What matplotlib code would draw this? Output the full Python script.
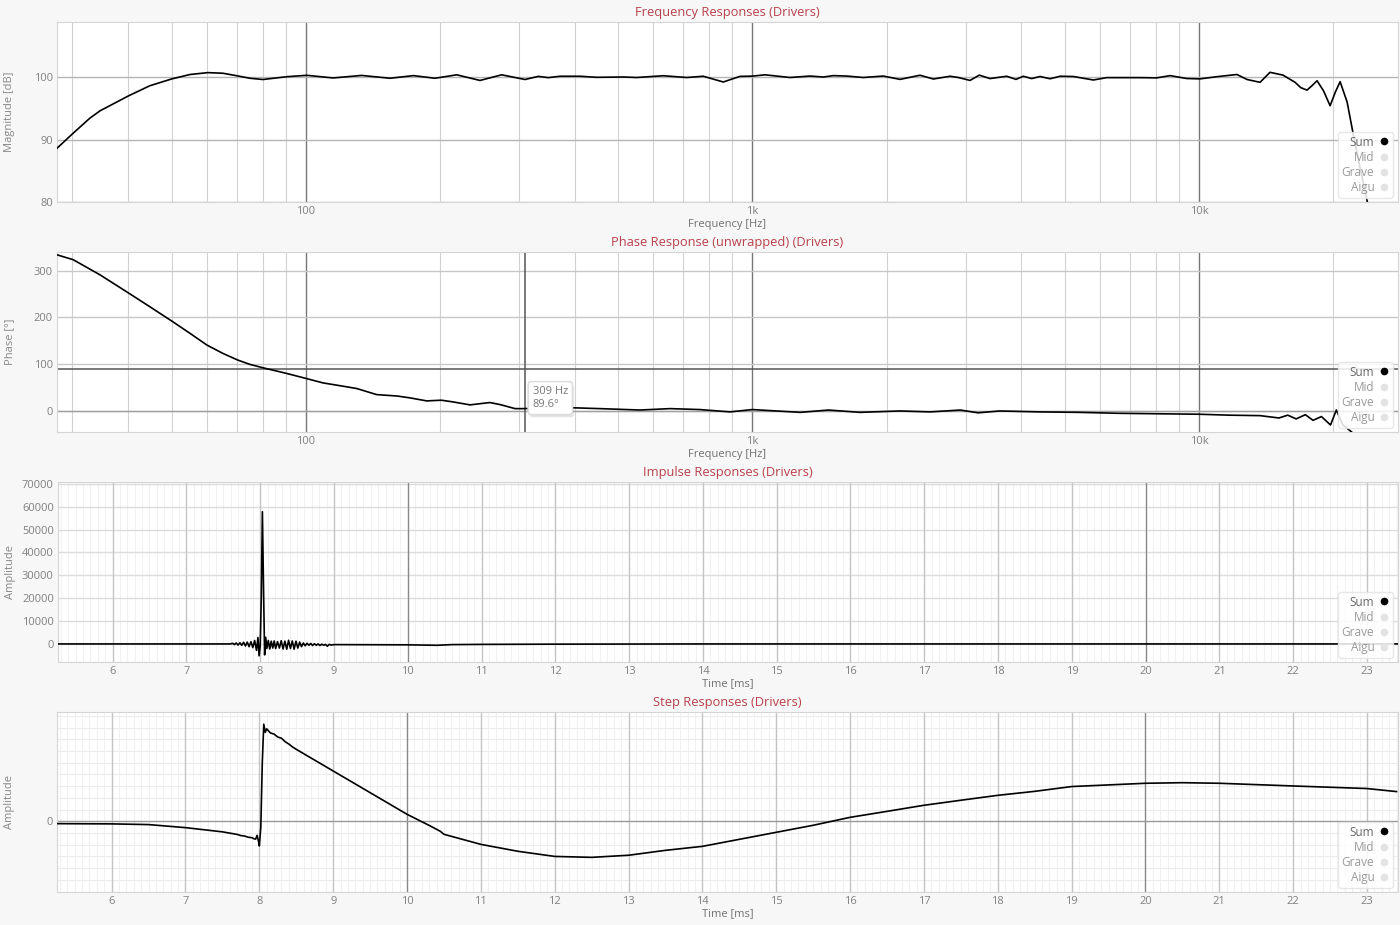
import numpy as np
import matplotlib
matplotlib.use("Agg")
import matplotlib.pyplot as plt
from matplotlib.lines import Line2D
from matplotlib.ticker import FixedLocator, NullFormatter
import matplotlib.patheffects as pe

plt.rcParams['font.family'] = ['Open Sans', 'DejaVu Sans']

# frequency response (Sum)
mag_freq = [27.7, 30.1, 32.8, 34.6, 40.1, 44.7, 50.1, 55.0, 60.3, 65.2, 70.0, 74.9, 80.1, 90.7,
            100.4, 115, 133.3, 154.2, 174, 194.5, 217.6, 245.3, 274.4, 309.4, 331.3, 348.9,
            370.7, 411, 447.8, 513.6, 550.4, 631.3, 712.3, 776, 860.2, 937.6, 1000, 1067,
            1213, 1345, 1441, 1517, 1626, 1771, 1963, 2140, 2372, 2541, 2770, 2891, 3070,
            3220, 3403, 3710, 3891, 4041, 4220, 4405, 4639, 4884, 5231, 5800, 6213, 7376,
            8040, 8610, 9385, 10050, 10970, 12160, 12810, 13700, 14420, 15420, 16410,
            16900, 17450, 17900, 18380, 19000, 19660, 20200, 20700, 21460, 22130, 22710, 24150]
mag_db = [88.6, 91.0, 93.4, 94.6, 97.0, 98.6, 99.7, 100.4, 100.7, 100.6, 100.2, 99.8, 99.6, 100.05,
          100.27, 99.85, 100.25, 99.8, 100.22, 99.8, 100.35, 99.45, 100.35, 99.6, 100.1, 99.9,
          100.12, 100.12, 99.95, 100.0, 99.92, 100.2, 99.92, 100.12, 99.2, 100.1, 100.14, 100.35,
          99.92, 100.15, 100.0, 100.22, 100.15, 99.92, 100.15, 99.62, 100.28, 99.68, 100.12, 99.92,
          99.45, 100.3, 99.75, 100.12, 99.62, 100.12, 99.75, 100.08, 99.72, 100.12, 100.08, 99.52,
          99.9, 99.9, 99.86, 100.22, 99.76, 99.7, 100.05, 100.4, 99.6, 99.15, 100.75, 100.3, 99.15,
          98.3, 97.9, 98.6, 99.4, 97.8, 95.4, 97.6, 99.25, 96.0, 91.0, 87.0, 78.0]

# unwrapped phase (Sum)
ph_freq = [27.7, 30.1, 34.6, 40.1, 44.7, 50.3, 55.0, 60.0, 65.2, 70.3, 74.9, 80.1, 90.5, 100,
           109.2, 121, 129.9, 144, 159.8, 171, 186.4, 201, 213.4, 233, 258, 272, 294, 306,
           390, 455, 560, 654, 762, 890, 1000, 1130, 1280, 1480, 1740, 2140, 2500, 2920,
           3200, 3580, 4400, 5400, 6600, 8100, 10000, 11700, 13700, 15100, 15800, 16500,
           17300, 18000, 18800, 19700, 20300, 21000, 22300, 24500]
ph_deg = [334, 323.6, 291, 252, 223, 191, 166, 141, 123, 109, 99.6, 92.4, 80.3, 69.6,
          60, 53, 48, 35, 32, 28, 21.5, 23, 19.4, 13, 18, 13.7, 5, 5,
          7, 5, 2, 5, 3, -2, 3, 0, -3, 2, -3, 0, -2, 2,
          -4, 0, -2, -3, -5, -6, -7, -9, -10, -15, -9, -17,
          -8, -20, -12, -30, 2, -30, -50, -60]

# impulse response (Sum)
imp_t = [5.25, 7.0, 7.5, 7.600, 7.625, 7.650, 7.675, 7.700, 7.725, 7.750, 7.775, 7.800, 7.825,
         7.850, 7.875, 7.900, 7.925, 7.950, 7.970, 7.985, 8.000, 8.015, 8.030, 8.045, 8.060,
         8.075, 8.090, 8.110, 8.130, 8.150, 8.170, 8.190, 8.210, 8.235, 8.260, 8.285, 8.310,
         8.335, 8.360, 8.385, 8.410, 8.435, 8.460, 8.485, 8.510, 8.535, 8.560, 8.585, 8.610,
         8.635, 8.660, 8.685, 8.710, 8.735, 8.760, 8.785, 8.810, 8.835, 8.860, 8.885, 8.910,
         8.935, 8.960, 9.0, 10.0, 10.4, 10.6, 11.0, 12.0, 14.0, 23.42]
imp_amp = [0, 0, 0, 0, 300, -300, 400, -500, 500, -600, 700, -900, 800,
           -1200, 1000, -1600, 1500, -2800, 2800, -5200, -1000, 20000, 57800, 25000, -4800,
           2900, -2000, 1500, -2200, 1200, -1800, 1300, -2000, 1000, -1800, 1400, -2200,
           1200, -2300, 1600, -2000, 1300, -2300, 1200, -1800, 800, -1200, 400, -800,
           300, -600, 200, -700, 100, -600, 0, -700, -100, -600, -200, -1000,
           -200, -500, -300, -400, -600, -300, -200, -100, 0, 0]

# step response (Sum), arbitrary units
step_t = [5.27, 6.0, 6.5, 7.0, 7.5, 7.7, 7.75, 7.8, 7.85, 7.9, 7.93, 7.95, 7.97, 7.99, 8.0,
          8.02, 8.04, 8.06, 8.08, 8.10, 8.15, 8.2, 8.25, 8.3, 8.35, 8.4, 8.45, 8.5, 9.0, 9.5,
          10.0, 10.3, 10.45, 10.5, 11.0, 11.5, 12.0, 12.5, 13.0, 13.5, 14.0, 14.5, 15.0, 15.5,
          16.0, 16.5, 17.0, 17.5, 18.0, 18.5, 19.0, 20.0, 20.5, 21.0, 22.0, 23.0, 23.4]
step_amp = [-0.02, -0.022, -0.028, -0.054, -0.09, -0.112, -0.122, -0.126, -0.136, -0.14, -0.15,
            -0.152, -0.12, -0.175, -0.21, -0.05, 0.5, 0.83, 0.76, 0.79, 0.755, 0.745, 0.72, 0.71,
            0.68, 0.66, 0.635, 0.615, 0.43, 0.245, 0.06, -0.035, -0.085, -0.111, -0.197, -0.256,
            -0.30, -0.308, -0.29, -0.248, -0.214, -0.154, -0.094, -0.034, 0.034, 0.085, 0.137,
            0.18, 0.222, 0.256, 0.297, 0.325, 0.33, 0.325, 0.302, 0.28, 0.254]

titles = ['Frequency Responses (Drivers)', 'Phase Response (unwrapped) (Drivers)',
          'Impulse Responses (Drivers)', 'Step Responses (Drivers)']
legend_names = ['Sum', 'Mid', 'Grave', 'Aigu']
title_color = '#b8404c'

fig = plt.figure(figsize=(14, 9.25), dpi=100, facecolor='#f7f7f7')
H = 925.0
rects = [[57/1400, 1-202/H, 1341/1400, 180/H],
         [57/1400, 1-432/H, 1341/1400, 180/H],
         [58/1400, 1-662/H, 1340/1400, 180/H],
         [57/1400, 1-892/H, 1341/1400, 180/H]]
axes = [fig.add_axes(r) for r in rects]


def style(ax, title, xlabel, ylabel):
    ax.set_facecolor('white')
    for s in ax.spines.values():
        s.set_color('#d5d5d5')
    ax.tick_params(which='both', length=0, labelsize=8, labelcolor='#808080', pad=3)
    ax.set_title(title, color=title_color, fontsize=9.3, pad=4)
    ax.set_xlabel(xlabel, fontsize=8, color='#707070', labelpad=1)
    ax.set_ylabel(ylabel, fontsize=8, color='#888888')
    ax.yaxis.set_label_coords(-42 / 1341, 0.5)
    ax.set_axisbelow(True)
    handles = [Line2D([], [], ls='none', marker='o', ms=4.5,
                      color='black' if n == 'Sum' else '#e3e3e3') for n in legend_names]
    leg = ax.legend(handles, legend_names, loc='lower right', bbox_to_anchor=(0.996, 0.025),
                    markerfirst=False, fontsize=8.5, frameon=True, framealpha=0.85,
                    edgecolor='#e3e3e3', handlelength=0.8, handletextpad=0.45,
                    labelspacing=0.18, borderpad=0.3, borderaxespad=0)
    for n, t in zip(legend_names, leg.get_texts()):
        t.set_color('#666666' if n == 'Sum' else '#999999')
    leg.set_zorder(10)


def log_grid(ax):
    ax.set_xscale('log')
    ax.set_xlim(27.7, 27900)
    ax.xaxis.set_major_locator(FixedLocator([100, 1000, 10000]))
    ax.set_xticklabels(['100', '1k', '10k'])
    minors = [m * 10 ** e for e in (1, 2, 3, 4) for m in range(2, 10)]
    ax.xaxis.set_minor_locator(FixedLocator(minors))
    ax.xaxis.set_minor_formatter(NullFormatter())
    ax.grid(True, which='major', axis='x', color='#777777', lw=1)
    ax.grid(True, which='minor', axis='x', color='#d2d2d2', lw=0.8)
    ax.grid(True, which='major', axis='y', color='#b5b5b5', lw=1)


def time_grid(ax, minor_y=None):
    ax.set_xlim(5.26, 23.42)
    ticks = list(range(6, 24))
    ax.set_xticks(ticks)
    ax.set_xticks([t / 10 for t in range(53, 235)], minor=True)
    for t in ticks:
        ax.axvline(t, color='#888888' if t in (10, 20) else '#c4c4c4', lw=1, zorder=0.6)
    ax.grid(True, which='minor', axis='x', color='#f1f1f1', lw=0.8)
    if minor_y is not None:
        ax.set_yticks(minor_y, minor=True)
        ax.grid(True, which='minor', axis='y', color='#ececec', lw=0.8)


# magnitude
ax = axes[0]
style(ax, titles[0], 'Frequency [Hz]', 'Magnitude [dB]')
log_grid(ax)
ax.set_ylim(80, 108.8)
ax.set_yticks([80, 90, 100])
ax.plot(mag_freq, mag_db, color='black', lw=1.2, zorder=3, solid_joinstyle='round')

# phase
ax = axes[1]
style(ax, titles[1], 'Frequency [Hz]', 'Phase [°]')
log_grid(ax)
ax.set_ylim(-45, 340)
ax.set_yticks([0, 100, 200, 300])
ax.grid(True, which='major', axis='y', color='#c8c8c8', lw=1)
ax.axhline(0, color='#a0a0a0', lw=1, zorder=0.7)
ax.axhline(89.6, color='#555555', lw=1.1, zorder=2)
ax.axvline(309, color='#555555', lw=1.1, zorder=2)
ax.plot(ph_freq, ph_deg, color='black', lw=1.2, zorder=3, solid_joinstyle='round')
ann = ax.annotate('309 Hz\n89.6°', xy=(309, 89.6), xytext=(8, -17), textcoords='offset pixels',
                  ha='left', va='top', fontsize=8, color='#777777', linespacing=1.25, zorder=12,
                  bbox=dict(boxstyle='round,pad=0.4,rounding_size=0.3', fc='white', ec='#dddddd'))
ann.get_bbox_patch().set_path_effects([pe.withSimplePatchShadow(offset=(1, -2), alpha=0.15),
                                       pe.Normal()])

# impulse
ax = axes[2]
style(ax, titles[2], 'Time [ms]', 'Amplitude')
time_grid(ax)
ax.set_ylim(-7900, 70800)
ax.set_yticks(list(range(0, 70001, 10000)))
ax.grid(True, which='major', axis='y', color='#dcdcdc', lw=1)
ax.plot(imp_t, imp_amp, color='black', lw=1.2, zorder=3)

# step
ax = axes[3]
style(ax, titles[3], 'Time [ms]', 'Amplitude')
time_grid(ax, minor_y=[v / 10 for v in range(-6, 10)])
ax.set_ylim(-0.604, 0.934)
ax.set_yticks([0])
ax.axhline(0, color='#999999', lw=1, zorder=0.7)
ax.plot(step_t, step_amp, color='black', lw=1.2, zorder=3, solid_joinstyle='round')

fig.savefig('out.png', dpi=100, facecolor=fig.get_facecolor())
